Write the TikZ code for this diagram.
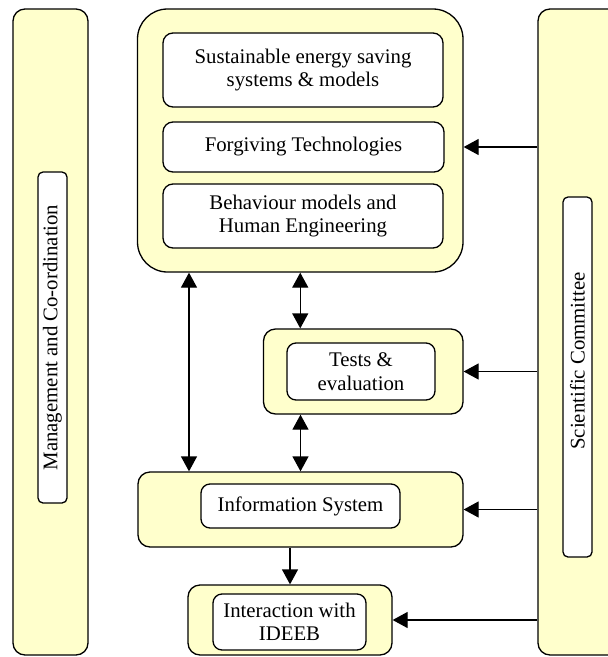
\documentclass[tikz,border=0pt]{standalone}
\usepackage{fontspec}
\setmainfont{Liberation Serif}
\usetikzlibrary{arrows.meta}
\definecolor{paleyellow}{HTML}{FFFFCC}
\begin{document}
\begin{tikzpicture}[x=1pt,y=-1pt,
  lw/.style={line width=1.3pt},
  outerbox/.style={lw,draw=black,fill=paleyellow,rounded corners=#1,inner sep=0pt,anchor=center},
  innerbox/.style={lw,draw=black,fill=white,rounded corners=#1,inner sep=0pt,anchor=center,align=center,
    font=\fontsize{20.8}{23.5}\selectfont},
  arr/.style={lw,-{Triangle[length=15pt,width=16pt]}},
  darr/.style={lw,{Triangle[length=15pt,width=16pt]}-{Triangle[length=15pt,width=16pt]}}
]
\useasboundingbox (0,0) rectangle (608,657);
% side columns
\node[outerbox=12pt,minimum width=75pt,minimum height=646pt] (mgmtcol) at (50.5,332) {};
\node[innerbox=5pt,minimum width=331pt,minimum height=29pt,rotate=90] (mgmt) at (52.5,337.5) {Management and Co-ordination};
\node[outerbox=12pt,minimum width=87pt,minimum height=646pt] (scicol) at (581.5,332) {};
\node[innerbox=5pt,minimum width=360pt,minimum height=29pt,rotate=90] (sci) at (577.5,377) {\hspace*{32pt}Scientific Committee};
% top block
\node[outerbox=30pt,minimum width=325.5pt,minimum height=263pt] (top) at (300.25,140.5) {};
\node[innerbox=10pt,minimum width=280pt,minimum height=74pt] (sust) at (303,70) {Sustainable energy saving\\systems \& models};
\node[innerbox=10pt,minimum width=281pt,minimum height=50pt] (forg) at (303.5,147) {Forgiving Technologies};
\node[innerbox=10pt,minimum width=280pt,minimum height=64pt] (behav) at (303,216) {Behaviour models and\\Human Engineering};
% tests
\node[outerbox=12pt,minimum width=199.5pt,minimum height=85pt] (testsout) at (363.25,371.5) {};
\node[innerbox=9pt,minimum width=148pt,minimum height=57pt] (tests) at (361,371.5) {Tests \&\\evaluation};
% information system
\node[outerbox=12pt,minimum width=325pt,minimum height=75pt] (infoout) at (300.5,509.5) {};
\node[innerbox=9pt,minimum width=199pt,minimum height=44pt] (info) at (300.5,506) {Information System};
% IDEEB
\node[outerbox=12pt,minimum width=204pt,minimum height=70pt] (ideebout) at (290,620) {};
\node[innerbox=9pt,minimum width=153pt,minimum height=56pt] (ideeb) at (289.5,622) {Interaction with\\IDEEB};
% connectors
\draw[arr] (scicol.west |- forg.east) -- (top.east |- forg.east);
\draw[arr] (scicol.west |- testsout.east) -- (testsout.east);
\draw[arr] (scicol.west |- infoout.east) -- (infoout.east);
\draw[arr] (scicol.west |- ideebout.east) -- (ideebout.east);
\draw[darr] ([xshift=-111.25pt]top.south) -- ([xshift=-111.5pt]infoout.north);
\draw[darr] (top.south) -- (top.south |- testsout.north);
\draw[darr] (testsout.south -| infoout.north) -- (infoout.north);
\draw[arr] (infoout.south -| ideebout.north) -- (ideebout.north);
\end{tikzpicture}
\end{document}
